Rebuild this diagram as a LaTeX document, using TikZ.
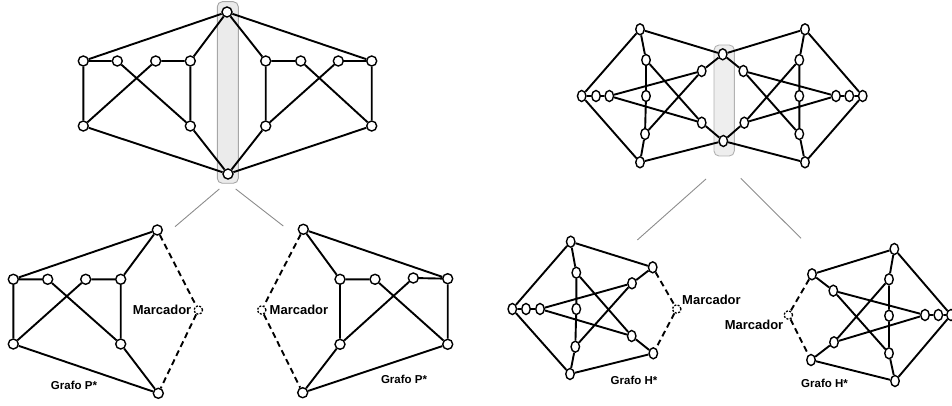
\documentclass[tikz,border=0pt]{standalone}
\usepackage{fontspec}
\setmainfont{Liberation Sans}
\usetikzlibrary{shapes.geometric}
\begin{document}
\begin{tikzpicture}[x=1pt,y=-1pt,
  v/.style={circle,draw,fill=white,inner sep=0pt,minimum size=10pt,line width=1.4pt},
  ve/.style={ellipse,draw,fill=white,inner sep=0pt,minimum width=8.5pt,minimum height=11pt,line width=1.4pt},
  mk/.style={circle,draw,fill=white,inner sep=0pt,minimum size=8.5pt,line width=1.3pt,dash pattern=on 2pt off 1.5pt},
  ed/.style={line width=1.9pt},
  dsh/.style={line width=1.9pt,dash pattern=on 6pt off 4pt},
  link/.style={draw=black!45,line width=0.9pt},
  lbl/.style={font=\bfseries\fontsize{13}{15}\selectfont,inner sep=0pt},
  glbl/.style={font=\bfseries\fontsize{11.5}{13}\selectfont,inner sep=0pt},
  cut/.style={rounded corners=5pt,line width=0.9pt}]
\useasboundingbox (0,0) rectangle (952,406);

% ---------- top-left graph ----------
\draw[cut,draw=black!35,fill=black!8] (217.3,1.7) rectangle (238.3,183.3);
\node[v] (tT) at (227,12) {};
\node[v] (tB) at (228,174) {};
\node[v] (tl1) at (83.3,61) {};
\node[v] (tl2) at (117.3,61) {};
\node[v] (tl3) at (155.7,61) {};
\node[v] (tl4) at (190.3,61) {};
\node[v] (tlb1) at (83.3,126) {};
\node[v] (tlb2) at (190.3,126) {};
\node[v] (tr1) at (265.7,61) {};
\node[v] (tr2) at (300.7,61) {};
\node[v] (tr3) at (338.3,61) {};
\node[v] (tr4) at (371.7,61) {};
\node[v] (trb1) at (265.7,126) {};
\node[v] (trb2) at (371.7,126) {};
\draw[ed] (tT)--(tl1) (tl1)--(tl2) (tl1)--(tlb1) (tl2)--(tlb2) (tl3)--(tl4)
  (tl3)--(tlb1) (tl4)--(tlb2) (tl4)--(tT) (tlb1)--(tB) (tlb2)--(tB);
\draw[ed] (tT)--(tr4) (tr4)--(tr3) (tr4)--(trb2) (tr3)--(trb1) (tr2)--(trb2)
  (tr1)--(tr2) (tr1)--(tT) (tr1)--(trb1) (trb1)--(tB) (trb2)--(tB);

% ---------- top-right graph ----------
\draw[cut,draw=black!30,fill=brown!8!black!7] (714,45) rectangle (734.3,156);
\node[ve] (hA) at (640,29.3) {};
\node[ve] (hB) at (805,29.3) {};
\node[ve] (hC) at (722.7,54.3) {};
\node[ve] (hD) at (723.3,141) {};
\node[ve] (hE) at (640,162.3) {};
\node[ve] (hF) at (805,162.3) {};
\node[ve] (ho1) at (581.7,96) {};
\node[ve] (ho2) at (596,96) {};
\node[ve] (ho3) at (609.3,96) {};
\node[ve] (hi1) at (646,60) {};
\node[ve] (hi2) at (646,96) {};
\node[ve] (hi3) at (645,134) {};
\node[ve] (hm1) at (701.7,71) {};
\node[ve] (hm2) at (701.7,122.7) {};
\node[ve] (hn1) at (743.3,71) {};
\node[ve] (hn2) at (744.3,122.7) {};
\node[ve] (hj1) at (799.3,60) {};
\node[ve] (hj2) at (799.3,96) {};
\node[ve] (hj3) at (799.3,134) {};
\node[ve] (hp3) at (836,96) {};
\node[ve] (hp2) at (849.3,96) {};
\node[ve] (hp1) at (862.7,96) {};
\draw[ed] (hA)--(hC) (hA)--(ho1) (hA)--(hi1) (hi1)--(hi2) (hi2)--(hi3) (hi3)--(hE)
  (ho1)--(hE) (hE)--(hD) (ho1)--(ho2) (ho2)--(ho3) (ho3)--(hm1) (ho3)--(hm2)
  (hi1)--(hm2) (hi3)--(hm1) (hm1)--(hC) (hm2)--(hD);
\draw[ed] (hB)--(hC) (hB)--(hp1) (hB)--(hj1) (hj1)--(hj2) (hj2)--(hj3) (hj3)--(hF)
  (hp1)--(hF) (hF)--(hD) (hp1)--(hp2) (hp2)--(hp3) (hp3)--(hn1) (hp3)--(hn2)
  (hj1)--(hn2) (hj3)--(hn1) (hn1)--(hC) (hn2)--(hD);

% ---------- gray links ----------
\coordinate (la1) at (219.3,189); \coordinate (la2) at (175,226.7);
\coordinate (lb1) at (235.7,189); \coordinate (lb2) at (283.3,226);
\coordinate (lc1) at (706,179);   \coordinate (lc2) at (637.3,240);
\coordinate (ld1) at (740.7,178.3); \coordinate (ld2) at (801,238.3);
\draw[link] (la1)--(la2) (lb1)--(lb2) (lc1)--(lc2) (ld1)--(ld2);

% ---------- bottom P* left ----------
\node[v] (pT) at (157.3,230) {};
\node[v] (pB) at (158.3,393.3) {};
\node[v] (p1) at (13.3,279.3) {};
\node[v] (p2) at (47.7,279.3) {};
\node[v] (p3) at (85.7,279.3) {};
\node[v] (p4) at (120.7,279.3) {};
\node[v] (pb1) at (13.3,344) {};
\node[v] (pb2) at (120.7,344) {};
\node[mk] (pm) at (198.3,310) {};
\draw[ed] (pT)--(p1) (p1)--(p2) (p1)--(pb1) (p2)--(pb2) (p3)--(p4)
  (p3)--(pb1) (p4)--(pb2) (p4)--(pT) (pb1)--(pB) (pb2)--(pB);
\draw[dsh] (pT)--(pm) (pm)--(pB);
\node[lbl,anchor=east] (pml) at (191.5,310) {Marcador};
\node[glbl] (pg) at (74,385) {Grafo P*};

% ---------- bottom P* right ----------
\node[v] (qT) at (303.3,229.3) {};
\node[v] (qB) at (302.7,392.7) {};
\node[v] (q1) at (340,279.3) {};
\node[v] (q2) at (375,279.3) {};
\node[v] (q3) at (413.3,278) {};
\node[v] (q4) at (447.7,278.7) {};
\node[v] (qb1) at (340,344.3) {};
\node[v] (qb2) at (447.7,344.3) {};
\node[mk] (qm) at (261.7,310) {};
\draw[ed] (qT)--(q4) (q4)--(q3) (q4)--(qb2) (q3)--(qb1) (q2)--(qb2)
  (q1)--(q2) (q1)--(qT) (q1)--(qb1) (qb1)--(qB) (qb2)--(qB);
\draw[dsh] (qT)--(qm) (qm)--(qB);
\node[lbl,anchor=west] (qml) at (269.5,310) {Marcador};
\node[glbl] (qg) at (404,379.5) {Grafo P*};

% ---------- bottom H* left ----------
\node[ve] (gA) at (570.7,241.7) {};
\node[ve] (gE) at (570,374) {};
\node[ve] (gC) at (652.7,267.3) {};
\node[ve] (gD) at (653.3,353.3) {};
\node[ve] (go1) at (512.3,309) {};
\node[ve] (go2) at (526,309) {};
\node[ve] (go3) at (540,309) {};
\node[ve] (gi1) at (576.3,272.7) {};
\node[ve] (gi2) at (576.3,309) {};
\node[ve] (gi3) at (575.3,346.7) {};
\node[ve] (gm1) at (632,283.3) {};
\node[ve] (gm2) at (631.7,336) {};
\node[mk] (gk) at (676.7,309) {};
\draw[ed] (gA)--(gC) (gA)--(go1) (gA)--(gi1) (gi1)--(gi2) (gi2)--(gi3) (gi3)--(gE)
  (go1)--(gE) (gE)--(gD) (go1)--(go2) (go2)--(go3) (go3)--(gm1) (go3)--(gm2)
  (gi1)--(gm2) (gi3)--(gm1) (gm1)--(gC) (gm2)--(gD);
\draw[dsh] (gC)--(gk) (gk)--(gD);
\node[lbl,anchor=west] (gkl) at (682,299.5) {Marcador};
\node[glbl] (gg) at (634,380.5) {Grafo H*};

% ---------- bottom H* right ----------
\node[ve] (kB) at (894.3,249) {};
\node[ve] (kF) at (895,381) {};
\node[ve] (kC) at (812,274.3) {};
\node[ve] (kD) at (811,360) {};
\node[ve] (km1) at (833.3,290.7) {};
\node[ve] (km2) at (834,342.3) {};
\node[ve] (ki1) at (889,279.3) {};
\node[ve] (ki2) at (889,315.7) {};
\node[ve] (ki3) at (889,353.3) {};
\node[ve] (ko3) at (925,315) {};
\node[ve] (ko2) at (938.3,315) {};
\node[ve] (ko1) at (951,315) {};
\node[mk] (kk) at (788.3,315) {};
\draw[ed] (kB)--(kC) (kB)--(ko1) (kB)--(ki1) (ki1)--(ki2) (ki2)--(ki3) (ki3)--(kF)
  (ko1)--(kF) (kF)--(kD) (ko1)--(ko2) (ko2)--(ko3) (ko3)--(km1) (ko3)--(km2)
  (ki1)--(km2) (ki3)--(km1) (km1)--(kC) (km2)--(kD);
\draw[dsh] (kC)--(kk) (kk)--(kD);
\node[lbl,anchor=east] (kkl) at (783.5,324.5) {Marcador};
\node[glbl] (kg) at (824.5,383.5) {Grafo H*};
\end{tikzpicture}
\end{document}
